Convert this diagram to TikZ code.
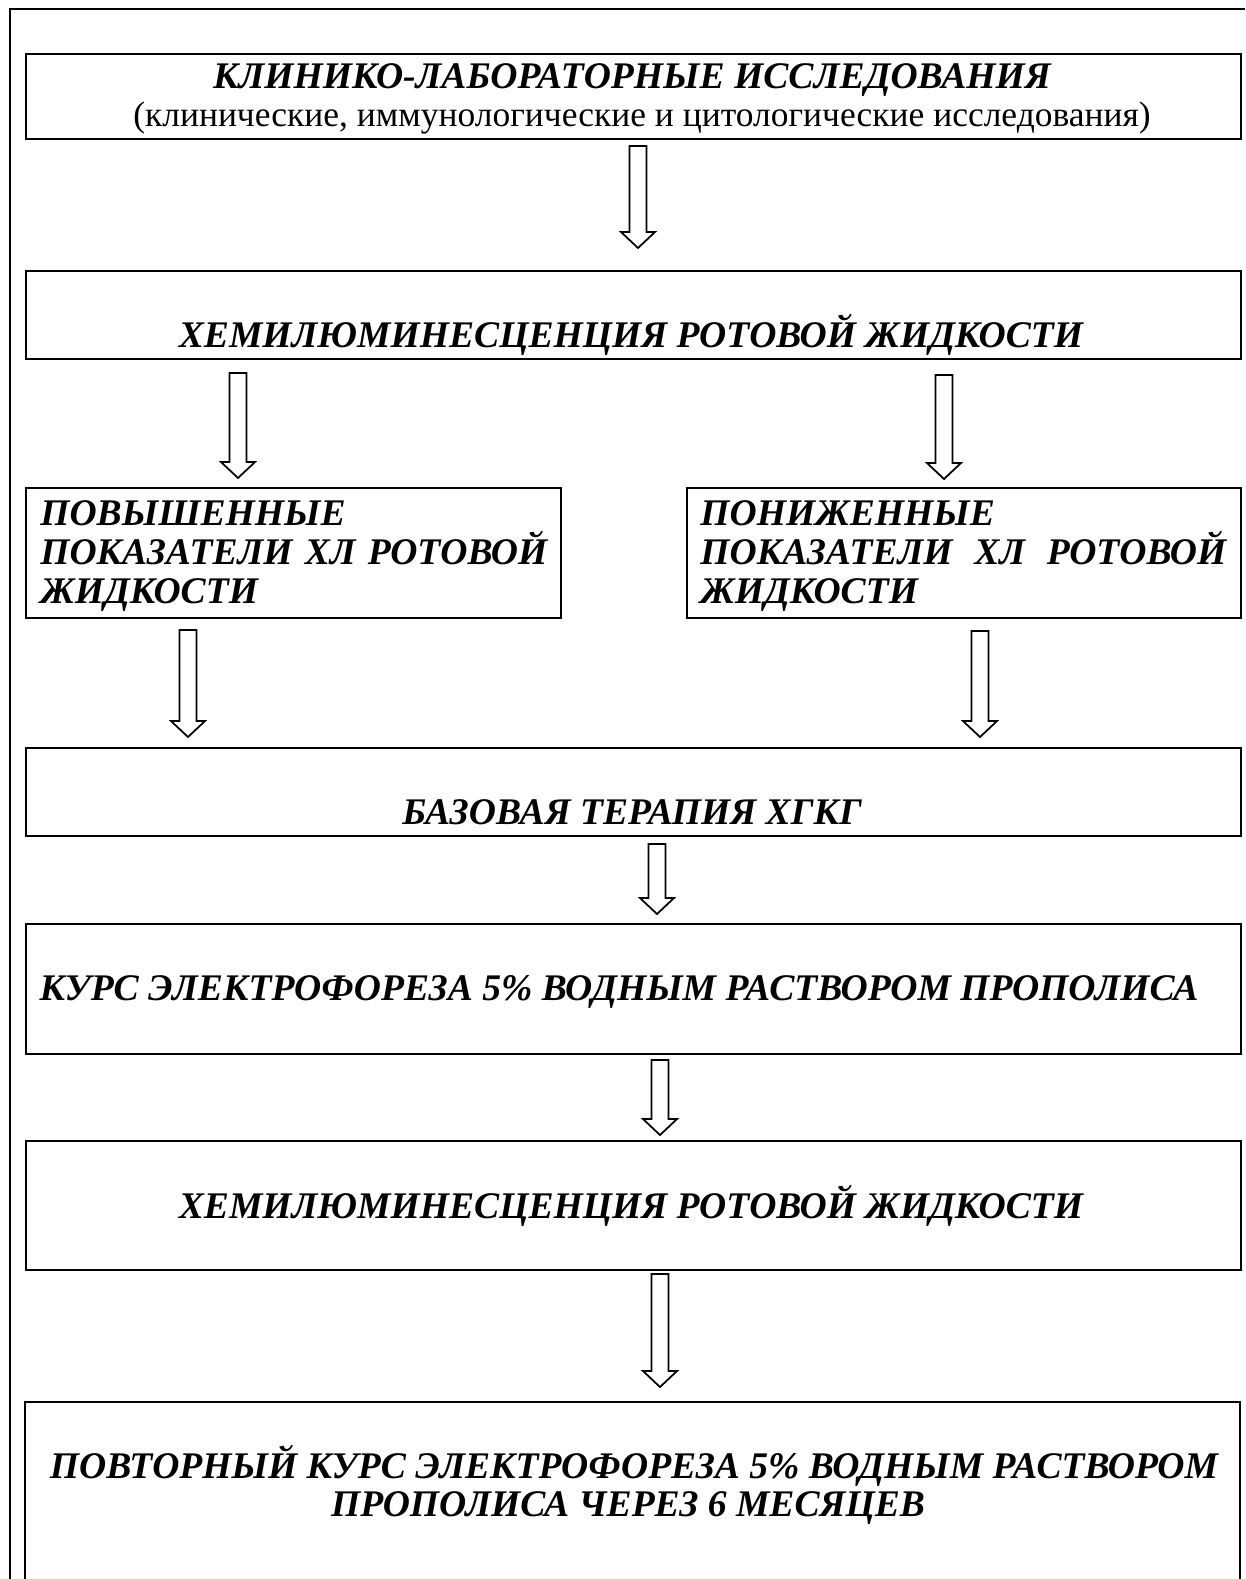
\documentclass[tikz,border=0pt]{standalone}
\usepackage{fontspec}
\setmainfont{Liberation Serif}
\usetikzlibrary{calc}

\tikzset{
  box/.style={draw,line width=1.2pt,inner sep=0pt,anchor=north west},
  capstext/.style={font=\bfseries\itshape\fontsize{21.4}{22}\selectfont,inner sep=0pt},
  plaintext/.style={font=\fontsize{20.2}{21}\selectfont,inner sep=0pt},
  blockarrow/.style={draw,line width=1pt,fill=white,line join=miter},
}
% hollow block arrow from #1 (top of shaft) to #2 (tip)
\newcommand{\hollowarrow}[2]{%
  \draw[blockarrow] ($(#1)+(-8.5,0)$) -- ($(#2)+(-8.5,-16)$) -- ($(#2)+(-17,-16)$)
    -- (#2) -- ($(#2)+(17,-16)$) -- ($(#2)+(8.5,-16)$) -- ($(#1)+(8.5,0)$) -- cycle;}

\begin{document}
\begin{tikzpicture}[x=0.02cm,y=-0.02cm]
\useasboundingbox (0,0) rectangle (1245,1579);

% outer frame
\draw[line width=1.2pt] (10,1579) -- (10,9) -- (1245,9);

% boxes
\node[box,minimum width=24.3cm,minimum height=1.7cm] (klin) at (25,53) {};
\node[box,minimum width=24.3cm,minimum height=1.76cm] (hemi1) at (25,270) {};
\node[box,minimum width=10.7cm,minimum height=2.6cm] (povysh) at (25,487) {};
\node[box,minimum width=11.08cm,minimum height=2.6cm] (ponizh) at (686,487) {};
\node[box,minimum width=24.3cm,minimum height=1.76cm] (baza) at (25,747) {};
\node[box,minimum width=24.3cm,minimum height=2.6cm] (kurs) at (25,923) {};
\node[box,minimum width=24.3cm,minimum height=2.58cm] (hemi2) at (25,1140) {};
\draw[line width=1.2pt] (25,1579) -- (25,1402) -- (1240,1402) -- (1240,1579);
\coordinate (povtor) at (632,1402);

% texts
\node[capstext,anchor=base] (klin-t) at (632,88) {КЛИНИКО-ЛАБОРАТОРНЫЕ ИССЛЕДОВАНИЯ};
\node[plaintext,anchor=base] (klin-s) at (642,126) {(клинические, иммунологические и цитологические исследования)};
\node[capstext,anchor=base] (hemi1-t) at (631,347) {ХЕМИЛЮМИНЕСЦЕНЦИЯ РОТОВОЙ ЖИДКОСТИ};
\node[capstext,anchor=base west] (povysh-a) at (40,525) {ПОВЫШЕННЫЕ};
\node[capstext,anchor=base west] (povysh-b) at (40,564) {\makebox[10.14cm][s]{ПОКАЗАТЕЛИ ХЛ РОТОВОЙ}};
\node[capstext,anchor=base west] (povysh-c) at (40,603) {ЖИДКОСТИ};
\node[capstext,anchor=base west] (ponizh-a) at (700,525) {ПОНИЖЕННЫЕ};
\node[capstext,anchor=base west] (ponizh-b) at (700,564) {\makebox[10.52cm][s]{ПОКАЗАТЕЛИ ХЛ РОТОВОЙ}};
\node[capstext,anchor=base west] (ponizh-c) at (700,603) {ЖИДКОСТИ};
\node[capstext,anchor=base] (baza-t) at (632,824) {БАЗОВАЯ ТЕРАПИЯ ХГКГ};
\node[capstext,anchor=base] (kurs-t) at (619,1000) {КУРС ЭЛЕКТРОФОРЕЗА 5\% ВОДНЫМ РАСТВОРОМ ПРОПОЛИСА};
\node[capstext,anchor=base] (hemi2-t) at (631,1218) {ХЕМИЛЮМИНЕСЦЕНЦИЯ РОТОВОЙ ЖИДКОСТИ};
\node[capstext,anchor=base] (povtor-a) at (634,1478) {ПОВТОРНЫЙ КУРС ЭЛЕКТРОФОРЕЗА 5\% ВОДНЫМ РАСТВОРОМ};
\node[capstext,anchor=base] (povtor-b) at (628,1516) {ПРОПОЛИСА ЧЕРЕЗ 6 МЕСЯЦЕВ};

% arrows
\coordinate (a1s) at (638,146);  \coordinate (a1e) at (638,248);
\coordinate (a2s) at (238,373);  \coordinate (a2e) at (238,478);
\coordinate (a3s) at (944,375);  \coordinate (a3e) at (944,479);
\coordinate (a4s) at (188,630);  \coordinate (a4e) at (188,737);
\coordinate (a5s) at (980,631);  \coordinate (a5e) at (980,737);
\coordinate (a6s) at (657,844);  \coordinate (a6e) at (657,914);
\coordinate (a7s) at (660,1060); \coordinate (a7e) at (660,1135);
\coordinate (a8s) at (660,1274); \coordinate (a8e) at (660,1387);
\hollowarrow{a1s}{a1e}
\hollowarrow{a2s}{a2e}
\hollowarrow{a3s}{a3e}
\hollowarrow{a4s}{a4e}
\hollowarrow{a5s}{a5e}
\hollowarrow{a6s}{a6e}
\hollowarrow{a7s}{a7e}
\hollowarrow{a8s}{a8e}

\end{tikzpicture}
\end{document}
